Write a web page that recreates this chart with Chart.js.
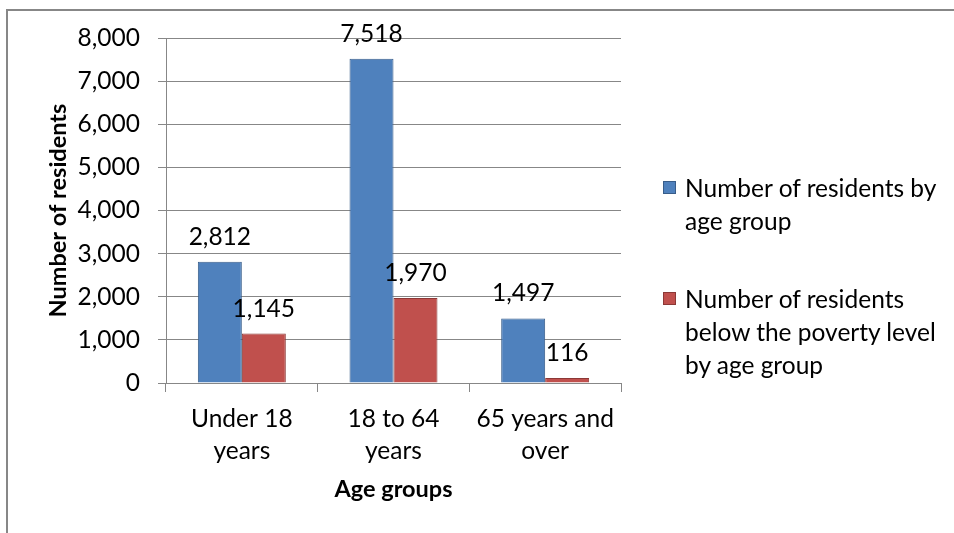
<!DOCTYPE html>
<html lang="en">
<head>
  <meta charset="UTF-8">
  <title>Residents by age group</title>
  <script src="https://cdn.jsdelivr.net/npm/chart.js"></script>
  <style>
    body { margin: 0; background: #fff; font-family: Lato, "Open Sans", sans-serif; }
    .wrap { position: relative; width: 954px; height: 533px; overflow: hidden; }
    .cut { position: absolute; left: -14px; top: -29px; font-size: 24px; color: #000; }
    .frame { position: absolute; left: 6px; top: 9px; width: 1000px; height: 600px; border: 2px solid #878787; }
    canvas { position: absolute; left: 0; top: 0; }
    .legend { position: absolute; left: 663px; font-size: 24.5px; line-height: 33px; color: #000; }
    .legend .item { position: relative; padding-left: 22px; margin-bottom: 45px; }
    .legend .box { position: absolute; left: 0; top: 10px; width: 11px; height: 11px; }
  </style>
</head>
<body>
  <div class="wrap">
    <div class="cut">age group)</div>
    <div class="frame"></div>
    <canvas id="grafico" width="954" height="533"></canvas>
    <div class="legend" id="legenda" style="top:171px"></div>
  </div>
<script>
  // dados do grafico
  var categorias = [['Under 18', 'years'], ['18 to 64', 'years'], ['65 years and', 'over']]
  var nomesSeries = ['Number of residents by age group', 'Number of residents below the poverty level by age group']
  var linhasLegenda = [['Number of residents by', 'age group'], ['Number of residents', 'below the poverty level', 'by age group']]
  var residentes = [2812, 7518, 1497]
  var pobreza = [1145, 1970, 116]
  var ticksY = [0, 1000, 2000, 3000, 4000, 5000, 6000, 7000, 8000]

  var corAzul = '#4F81BD', bordaAzul = '#385D8A'
  var corVermelha = '#C0504D', bordaVermelha = '#8C3836'
  var cinza = '#878787'
  var fonte = 'Lato'
  var tam = 24.5

  // legenda em html (texto quebrado em linhas como no original)
  var cores = [[corAzul, bordaAzul], [corVermelha, bordaVermelha]]
  var legenda = document.getElementById('legenda')
  for (var i = 0; i < linhasLegenda.length; i++) {
    var item = document.createElement('div')
    item.className = 'item'
    item.innerHTML = '<span class="box" style="background:' + cores[i][0] + ';border:1px solid ' + cores[i][1] + '"></span>' + linhasLegenda[i].join('<br>')
    legenda.appendChild(item)
  }

  // rotulos em cima das barras
  const rotulos = {
    id: 'rotulos',
    afterDatasetsDraw(chart) {
      const ctx = chart.ctx
      ctx.save()
      ctx.font = tam + 'px ' + fonte
      ctx.fillStyle = '#000'
      ctx.textAlign = 'center'
      ctx.textBaseline = 'alphabetic'
      chart.data.datasets.forEach(function (ds, d) {
        chart.getDatasetMeta(d).data.forEach(function (bar, k) {
          ctx.fillText(ds.data[k].toLocaleString('en-US'), bar.x, bar.y - 17)
        })
      })
      ctx.restore()
    }
  }

  const config = {
    type: 'bar',
    data: {
      labels: categorias,
      datasets: [{
        label: nomesSeries[0],
        data: residentes,
        backgroundColor: corAzul,
        borderColor: bordaAzul,
        borderWidth: 1,
        categoryPercentage: 0.58,
        barPercentage: 1
      }, {
        label: nomesSeries[1],
        data: pobreza,
        backgroundColor: corVermelha,
        borderColor: bordaVermelha,
        borderWidth: 1,
        categoryPercentage: 0.58,
        barPercentage: 1
      }]
    },
    options: {
      responsive: false,
      animation: false,
      events: [],
      layout: { padding: { top: 38, right: 333, left: 0, bottom: 0 } },
      plugins: { legend: { display: false }, tooltip: { enabled: false } },
      scales: {
        x: {
          afterFit: function (s) { s.height = 150 },
          grid: { drawOnChartArea: false, color: cinza, tickLength: 9 },
          border: { display: true, color: cinza },
          ticks: { color: '#000', padding: 12, font: { family: fonte, size: tam, lineHeight: 1.27 }, maxRotation: 0 },
          title: { display: true, text: 'Age groups', color: '#000', font: { family: fonte, size: 23.5, weight: 'bold' }, padding: { bottom: 29 } }
        },
        y: {
          min: 0,
          max: 8000,
          afterFit: function (s) { s.width = 166 },
          afterBuildTicks: function (s) { s.ticks = ticksY.map(function (v) { return { value: v } }) },
          grid: { color: cinza, tickLength: 8 },
          border: { display: true, color: cinza },
          ticks: {
            color: '#000',
            padding: 18,
            font: { family: fonte, size: tam },
            callback: function (v) { return v.toLocaleString('en-US') }
          },
          title: { display: true, text: 'Number of residents', color: '#000', font: { family: fonte, size: 23.5, weight: 'bold' }, padding: { top: 44 } }
        }
      }
    },
    plugins: [rotulos]
  }

  new Chart(document.getElementById('grafico'), config)
</script>
</body>
</html>
